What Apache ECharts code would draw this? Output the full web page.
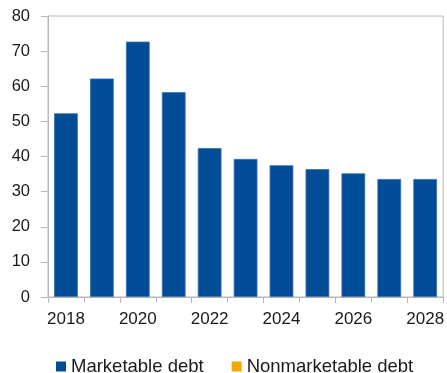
<!DOCTYPE html>
<html><head><meta charset="utf-8">
<script src="https://cdn.jsdelivr.net/npm/echarts@6/dist/echarts.min.js"></script>
<style>html,body{margin:0;padding:0;background:#fff}#c{width:447px;height:373px}</style>
</head><body><div id="c"></div>
<script>
var years = ['2018','2019','2020','2021','2022','2023','2024','2025','2026','2027','2028'];
var marketable = [52.3, 62.2, 72.7, 58.3, 42.4, 39.3, 37.5, 36.4, 35.2, 33.6, 33.6];
var nonmarketable = [0, 0, 0, 0, 0, 0, 0, 0, 0, 0, 0];
var yTicks = [0, 10, 20, 30, 40, 50, 60, 70, 80];

var chart = echarts.init(document.getElementById('c'), null, {renderer:'canvas'});
var font = 'Liberation Sans, Arial, sans-serif';
chart.setOption({
  animation: false,
  grid: {left: 48, top: 16, right: 2, bottom: 76, show: true, borderColor: '#b8b8b8', borderWidth: 1},
  legend: {
    top: 352, left: 51, itemWidth: 10, itemHeight: 10, itemGap: 28,
    icon: 'rect',
    itemStyle: {borderWidth: 0},
    textStyle: {fontFamily: font, fontSize: 18.5, color: '#1a1a1a', padding: [0,0,0,0]},
    data: ['Marketable debt', 'Nonmarketable debt']
  },
  xAxis: {
    type: 'category', data: years, boundaryGap: true,
    axisLine: {lineStyle: {color: '#b8b8b8', width: 1}},
    axisTick: {show: true, interval: 0, length: 6, lineStyle: {color: '#b8b8b8'}},
    axisLabel: {interval: 1, margin: 14, fontFamily: font, fontSize: 17, color: '#1a1a1a'}
  },
  yAxis: {
    type: 'value', min: yTicks[0], max: yTicks[yTicks.length-1], interval: 10,
    axisLine: {show: true, lineStyle: {color: '#b8b8b8', width: 1}},
    axisTick: {show: true, length: 7, lineStyle: {color: '#b8b8b8'}},
    splitLine: {show: false},
    axisLabel: {margin: 18, fontFamily: font, fontSize: 16.5, color: '#1a1a1a'}
  },
  series: [
    {name: 'Marketable debt', type: 'bar', stack: 'd', data: marketable, barCategoryGap: '34%',
     itemStyle: {color: '#014c97', borderColor: '#3a6fb2', borderWidth: 0.8}},
    {name: 'Nonmarketable debt', type: 'bar', stack: 'd', data: nonmarketable,
     itemStyle: {color: '#f5a800'}}
  ]
});
</script></body></html>
